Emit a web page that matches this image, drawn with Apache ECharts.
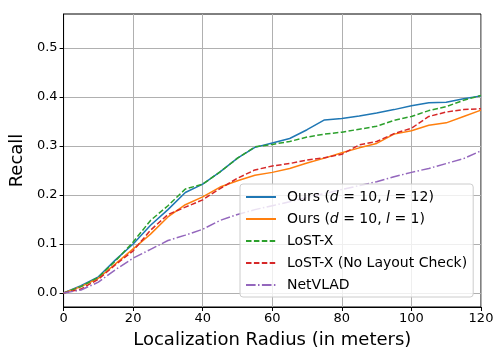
<!DOCTYPE html>
<html>
<head>
<meta charset="utf-8">
<script src="https://cdn.jsdelivr.net/npm/echarts@6/dist/echarts.min.js"></script>
<style>
  html, body { margin: 0; padding: 0; background: #fff; }
  #chart { width: 504px; height: 360px; }
</style>
</head>
<body>
<div id="chart"></div>
<script>
  // localization radius (meters)
  var radius = [0, 5, 10, 15, 20, 25, 30, 35, 40, 45, 50, 55, 60, 65, 70, 75, 80, 85, 90, 95, 100, 105, 110, 115, 120];

  var oursL12 = [0, 0.015, 0.033, 0.068, 0.100, 0.138, 0.170, 0.205, 0.222, 0.247, 0.275, 0.297, 0.306, 0.315, 0.333, 0.353, 0.356, 0.361, 0.367, 0.374, 0.382, 0.388, 0.389, 0.396, 0.402];
  var oursL1 = [0, 0.013, 0.030, 0.060, 0.090, 0.120, 0.155, 0.180, 0.196, 0.216, 0.229, 0.240, 0.246, 0.254, 0.265, 0.275, 0.286, 0.296, 0.305, 0.324, 0.331, 0.342, 0.347, 0.360, 0.373];
  var lostX = [0, 0.013, 0.032, 0.066, 0.104, 0.148, 0.178, 0.212, 0.222, 0.247, 0.275, 0.298, 0.303, 0.309, 0.318, 0.324, 0.328, 0.334, 0.340, 0.352, 0.360, 0.372, 0.380, 0.393, 0.403];
  var lostXNoLayout = [0, 0.008, 0.028, 0.058, 0.086, 0.128, 0.160, 0.175, 0.190, 0.213, 0.234, 0.251, 0.259, 0.264, 0.271, 0.276, 0.283, 0.302, 0.309, 0.325, 0.336, 0.360, 0.369, 0.374, 0.376];
  var netVLAD = [0, 0.006, 0.022, 0.048, 0.071, 0.089, 0.107, 0.118, 0.130, 0.148, 0.160, 0.170, 0.178, 0.186, 0.195, 0.203, 0.211, 0.219, 0.227, 0.237, 0.246, 0.254, 0.264, 0.274, 0.290];

  var yTicks = [0, 0.1, 0.2, 0.3, 0.4, 0.5];

  function pairs(ys) {
    return radius.map(function (x, i) { return [x, ys[i]]; });
  }

  var font = 'DejaVu Sans';
  var chart = echarts.init(document.getElementById('chart'));

  function line(name, ys, color, dash) {
    return {
      name: name,
      type: 'line',
      data: pairs(ys),
      symbol: 'none',
      showSymbol: false,
      animation: false,
      lineStyle: { color: color, width: 1.5, type: dash || 'solid' },
      itemStyle: { color: color }
    };
  }

  var dashed = [5.5, 2.4];
  var dashDot = [9.6, 2.4, 1.5, 2.4];

  chart.setOption({
    animation: false,
    grid: {
      left: 62, right: 23, top: 14, bottom: 53,
      show: true, borderColor: '#000', borderWidth: 1
    },
    xAxis: {
      type: 'value',
      min: 0, max: 120, interval: 20,
      name: 'Localization Radius (in meters)',
      nameLocation: 'middle',
      nameGap: 24,
      nameTextStyle: { fontFamily: font, fontSize: 18, color: '#000' },
      axisLine: { show: true, onZero: false, lineStyle: { color: '#000' } },
      axisTick: { show: true, length: 4, lineStyle: { color: '#000' } },
      axisLabel: { fontFamily: font, fontSize: 13, color: '#000', margin: 5 },
      splitLine: { show: true, lineStyle: { color: '#b0b0b0', width: 1 } }
    },
    yAxis: {
      type: 'value',
      min: -0.0286, max: 0.569,
      name: 'Recall',
      nameLocation: 'middle',
      nameGap: 29,
      nameTextStyle: { fontFamily: font, fontSize: 18, color: '#000' },
      axisLine: { show: true, lineStyle: { color: '#000' } },
      axisTick: { show: true, length: 4, lineStyle: { color: '#000' }, customValues: yTicks },
      axisLabel: {
        fontFamily: font, fontSize: 13, color: '#000', margin: 6,
        customValues: yTicks,
        formatter: function (v) { return v.toFixed(1); }
      },
      splitLine: { show: true, lineStyle: { color: '#b0b0b0', width: 1 } }
    },
    legend: {
      orient: 'vertical',
      left: 240, top: 184,
      padding: [6, 6, 5, 5],
      itemGap: 8,
      itemWidth: 30,
      itemHeight: 14,
      itemStyle: { opacity: 0, borderWidth: 0 },
      backgroundColor: 'rgba(255,255,255,0.8)',
      borderColor: '#cccccc',
      borderWidth: 1,
      borderRadius: 3,
      textStyle: {
        fontFamily: font, fontSize: 14, color: '#000',
        padding: [0, 0, 0, 6],
        rich: {
          n: { fontFamily: font, fontSize: 14, color: '#000' },
          i: { fontFamily: font, fontSize: 14, color: '#000', fontStyle: 'italic' }
        }
      },
      formatter: function (name) {
        if (name === 'oursL12') return '{n|Ours (}{i|d}{n| = 10, }{i|l}{n| = 12)}';
        if (name === 'oursL1') return '{n|Ours (}{i|d}{n| = 10, }{i|l}{n| = 1)}';
        return name;
      },
      data: ['oursL12', 'oursL1', 'LoST-X', 'LoST-X (No Layout Check)', 'NetVLAD']
    },
    series: [
      line('oursL12', oursL12, '#1f77b4'),
      line('oursL1', oursL1, '#ff7f0e'),
      line('LoST-X', lostX, '#2ca02c', dashed),
      line('LoST-X (No Layout Check)', lostXNoLayout, '#d62728', dashed),
      line('NetVLAD', netVLAD, '#9467bd', dashDot)
    ]
  });
</script>
</body>
</html>
